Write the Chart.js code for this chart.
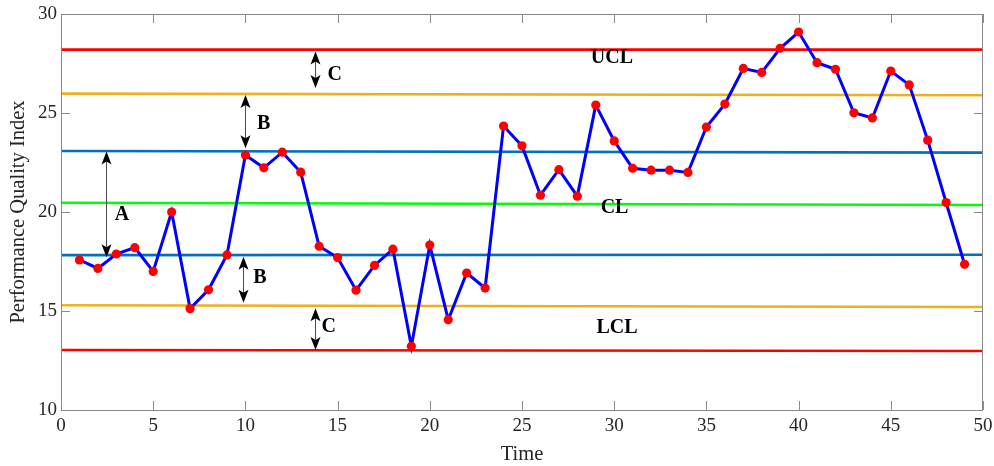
<!DOCTYPE html>
<html>
<head>
<meta charset="utf-8">
<script src="https://cdn.jsdelivr.net/npm/chart.js@4/dist/chart.umd.min.js"></script>
<style>
  html, body { margin: 0; padding: 0; background: #ffffff; }
  #wrap { width: 994px; height: 466px; }
</style>
</head>
<body>
<div id="wrap"><canvas id="c" width="994" height="466"></canvas></div>
<script>
// ---- data ----
const timeSteps = [1,2,3,4,5,6,7,8,9,10,11,12,13,14,15,16,17,18,19,20,21,22,23,24,25,26,27,28,29,30,31,32,33,34,35,36,37,38,39,40,41,42,43,44,45,46,47,48,49];
const performanceIndex = [17.58,17.15,17.88,18.2,17.0,20.0,15.12,16.07,17.83,22.88,22.23,23.02,22.01,18.27,17.7,16.05,17.3,18.12,13.22,18.33,14.56,16.92,16.16,24.34,23.34,20.85,22.14,20.8,25.4,23.59,22.21,22.11,22.11,22.0,24.29,25.45,27.25,27.05,28.27,29.09,27.54,27.21,25.01,24.75,27.12,26.42,23.63,20.48,17.36];
const lineEnds = [0, 50];
const uclLine = [28.2, 28.2];
const upperCLine = [25.98, 25.9];
const upperBLine = [23.08, 23.0];
const clLine = [20.47, 20.35];
const lowerBLine = [17.82, 17.84];
const lowerCLine = [15.29, 15.2];
const lclLine = [13.03, 12.98];
const xTickValues = [0,5,10,15,20,25,30,35,40,45,50];
const yTickValues = [10,15,20,25,30];

// annotations in data coordinates
const zoneArrows = [
  { x: 13.77, from: 28.1, to: 26.26 },
  { x: 9.98, from: 25.91, to: 23.22 },
  { x: 2.44, from: 23.05, to: 17.72 },
  { x: 9.85, from: 17.74, to: 15.42 },
  { x: 13.77, from: 15.14, to: 13.03 }
];
const zoneLabels = [
  { text: 'C', x: 14.84, y: 26.98 },
  { text: 'B', x: 10.99, y: 24.5 },
  { text: 'A', x: 3.31, y: 19.9 },
  { text: 'B', x: 10.79, y: 16.73 },
  { text: 'C', x: 14.52, y: 14.25 },
  { text: 'UCL', x: 29.88, y: 27.82 },
  { text: 'CL', x: 30.02, y: 20.26 },
  { text: 'LCL', x: 30.15, y: 14.19 }
];

const toPts = (xs, ys) => xs.map((x, i) => ({ x: x, y: ys[i] }));

function ctrl(label, ys, color, order) {
  return {
    label: label, data: toPts(lineEnds, ys), borderColor: color, backgroundColor: color,
    borderWidth: 2.6, pointRadius: 0, fill: false, tension: 0, order: order
  };
}

const overlay = {
  id: 'overlay',
  afterDatasetsDraw(chart) {
    const ctx = chart.ctx;
    const xs = chart.scales.x, ys = chart.scales.y;
    const a = chart.chartArea;
    ctx.save();
    // frame
    ctx.strokeStyle = '#8a8a8a';
    ctx.lineWidth = 1;
    ctx.strokeRect(Math.round(a.left) + 0.5, Math.round(a.top) + 0.5,
                   Math.round(a.right - a.left) - 1, Math.round(a.bottom - a.top));
    // inward ticks
    const tl = 9;
    ctx.beginPath();
    xTickValues.forEach(v => {
      const px = Math.round(xs.getPixelForValue(v)) + 0.5;
      ctx.moveTo(px, a.bottom); ctx.lineTo(px, a.bottom - tl);
      ctx.moveTo(px, a.top); ctx.lineTo(px, a.top + tl);
    });
    yTickValues.forEach(v => {
      const py = Math.round(ys.getPixelForValue(v)) + 0.5;
      ctx.moveTo(a.left, py); ctx.lineTo(a.left + tl, py);
      ctx.moveTo(a.right, py); ctx.lineTo(a.right - tl, py);
    });
    ctx.stroke();

    // arrows
    function head(x, tipY, dir) {
      ctx.beginPath();
      ctx.moveTo(x, tipY);
      ctx.lineTo(x - 5, tipY - dir * 13);
      ctx.lineTo(x, tipY - dir * 10);
      ctx.lineTo(x + 5, tipY - dir * 13);
      ctx.closePath();
      ctx.fill();
    }
    ctx.strokeStyle = '#4a4a4a';
    ctx.fillStyle = '#000000';
    ctx.lineWidth = 1;
    zoneArrows.forEach(ar => {
      const px = Math.round(xs.getPixelForValue(ar.x)) + 0.5;
      const y1 = ys.getPixelForValue(ar.from);
      const y2 = ys.getPixelForValue(ar.to);
      ctx.beginPath();
      ctx.moveTo(px, y1 + 9); ctx.lineTo(px, y2 - 9);
      ctx.stroke();
      head(px, y1, -1);
      head(px, y2, 1);
    });

    // labels
    ctx.fillStyle = '#000000';
    ctx.font = 'bold 20px "Liberation Serif", "Times New Roman", serif';
    ctx.textAlign = 'center';
    ctx.textBaseline = 'middle';
    zoneLabels.forEach(l => {
      ctx.fillText(l.text, xs.getPixelForValue(l.x), ys.getPixelForValue(l.y) + 1);
    });
    ctx.restore();
  }
};

const serif = '"Liberation Serif", "Times New Roman", serif';

new Chart(document.getElementById('c'), {
  type: 'line',
  data: {
    datasets: [
      {
        label: 'Performance Quality Index',
        data: toPts(timeSteps, performanceIndex),
        borderColor: '#0000ff', backgroundColor: '#ff0000',
        borderWidth: 3, pointRadius: 4.6, pointBorderWidth: 0,
        pointBackgroundColor: '#ff0000', tension: 0, fill: false, order: 0
      },
      ctrl('UCL', uclLine, '#ff0000', 1),
      ctrl('Upper C', upperCLine, '#edb120', 2),
      ctrl('Upper B', upperBLine, '#0072bd', 3),
      ctrl('CL', clLine, '#00ff00', 4),
      ctrl('Lower B', lowerBLine, '#0072bd', 5),
      ctrl('Lower C', lowerCLine, '#edb120', 6),
      ctrl('LCL', lclLine, '#ff0000', 7)
    ]
  },
  options: {
    responsive: false,
    animation: false,
    devicePixelRatio: 1,
    layout: { padding: { top: 14, right: 11, left: 0, bottom: 0 } },
    plugins: { legend: { display: false }, tooltip: { enabled: false } },
    scales: {
      x: {
        type: 'linear', min: 0, max: 50,
        afterFit: s => { s.height = 56; s.paddingLeft = 0; s.paddingRight = 0; },
        afterBuildTicks: s => { s.ticks = xTickValues.map(v => ({ value: v })); },
        grid: { display: false, drawTicks: false },
        border: { display: false },
        ticks: { color: '#262626', padding: 5, font: { family: serif, size: 19 }, maxRotation: 0 },
        title: { display: true, text: 'Time', color: '#262626', font: { family: serif, size: 20.5, lineHeight: 1.2 }, padding: { top: 0, bottom: -1 } }
      },
      y: {
        type: 'linear', min: 10, max: 30,
        afterFit: s => { s.width = 61; s.paddingTop = 0; s.paddingBottom = 0; },
        afterBuildTicks: s => { s.ticks = yTickValues.map(v => ({ value: v })); },
        grid: { display: false, drawTicks: false },
        border: { display: false },
        ticks: { color: '#262626', padding: 4, font: { family: serif, size: 19 } },
        title: { display: true, text: 'Performance Quality Index', color: '#262626', font: { family: serif, size: 20.5, lineHeight: 1.2 }, padding: { top: 6, bottom: 0 } }
      }
    }
  },
  plugins: [overlay]
});
</script>
</body>
</html>
